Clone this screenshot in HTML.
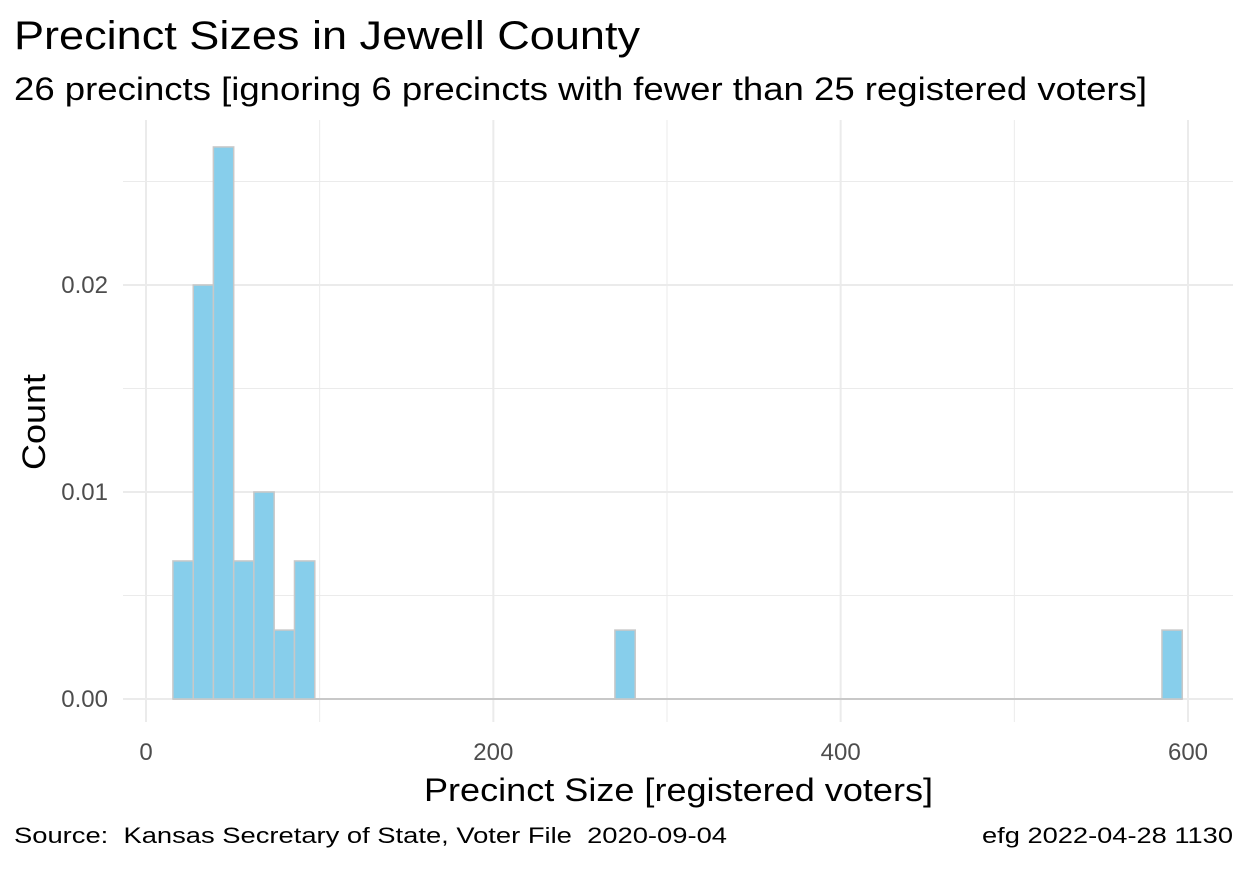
<!DOCTYPE html>
<html><head><meta charset="utf-8"><style>
body{margin:0;background:#fff;font-family:"Liberation Sans",sans-serif}
text{white-space:pre}
</style></head><body>
<svg width="1248" height="864" xmlns="http://www.w3.org/2000/svg">
<rect width="1248" height="864" fill="#fff"/>
<g id="grid"></g>
<g id="bars"></g>
<g id="axes"></g>
<text x="14" y="49" font-size="40" textLength="626" lengthAdjust="spacingAndGlyphs" fill="#000">Precinct Sizes in Jewell County</text>
<text x="14" y="100" font-size="32" textLength="1133" lengthAdjust="spacingAndGlyphs" fill="#000">26 precincts [ignoring 6 precincts with fewer than 25 registered voters]</text>
<text x="424" y="801" font-size="32" textLength="509" lengthAdjust="spacingAndGlyphs" fill="#000">Precinct Size [registered voters]</text>
<text transform="translate(45,470) rotate(-90)" font-size="32" textLength="96" lengthAdjust="spacingAndGlyphs" fill="#000">Count</text>
<text x="14" y="843" font-size="22" textLength="713" lengthAdjust="spacingAndGlyphs" fill="#000" xml:space="preserve">Source:  Kansas Secretary of State, Voter File  2020-09-04</text>
<text x="982" y="843" font-size="22" textLength="251" lengthAdjust="spacingAndGlyphs" fill="#000">efg 2022-04-28 1130</text>
</svg>
<script>
const binLo=[15.5,27.2,38.8,50.5,62.1,73.8,85.5,270,585];
const density=[0.00667,0.02,0.02667,0.00667,0.01,0.00333,0.00667,0.00333,0.00333];
const binWidth=11.7;
const xTicks=[0,200,400,600];
const xMinor=[100,300,500];
const yTicks=[0,0.01,0.02];
const yTickLabels=["0.00","0.01","0.02"];
const yMinor=[0.005,0.015,0.025];
const NS="http://www.w3.org/2000/svg";
const X=v=>146+v*(1042/600);
const Y=v=>699-v*20700;
const L=123,R=1233,T=120,B=722;
function mk(tag,at,parent){const e=document.createElementNS(NS,tag);for(const k in at)e.setAttribute(k,at[k]);parent.appendChild(e);return e;}
const grid=document.getElementById('grid'),bars=document.getElementById('bars'),axes=document.getElementById('axes');
yMinor.forEach(v=>{const l=mk('line',{x1:L,x2:R,y1:Y(v),y2:Y(v),stroke:'#ebebeb','stroke-width':1},grid);

});
xMinor.forEach(v=>{const l=mk('line',{x1:X(v),x2:X(v),y1:T,y2:B,stroke:'#ebebeb','stroke-width':1},grid);

});
yTicks.forEach((v,i)=>{const l=mk('line',{x1:L,x2:R,y1:Y(v),y2:Y(v),stroke:'#ebebeb','stroke-width':2},grid);


const t=mk('text',{x:108,y:Y(v)+8,'font-size':24,fill:'#4d4d4d','text-anchor':'end'},axes);t.textContent=yTickLabels[i];

});
xTicks.forEach(v=>{const l=mk('line',{x1:X(v),x2:X(v),y1:T,y2:B,stroke:'#ebebeb','stroke-width':2},grid);


const t=mk('text',{x:X(v),y:760,'font-size':24,fill:'#4d4d4d','text-anchor':'middle'},axes);t.textContent=v;

});
const base=mk('line',{x1:X(binLo[0]),x2:X(binLo[binLo.length-1]+binWidth),y1:Y(0),y2:Y(0),stroke:'#c8c8c8','stroke-width':2},bars);


binLo.forEach((lo,i)=>{const x0=X(lo),x1=X(lo+binWidth),y=Y(density[i]);
const r=mk('rect',{x:x0,y:y,width:x1-x0,height:Y(0)-y,fill:'#87ceeb',stroke:'#c8c8c8','stroke-width':1.5},bars);

});
</script>
</body></html>
